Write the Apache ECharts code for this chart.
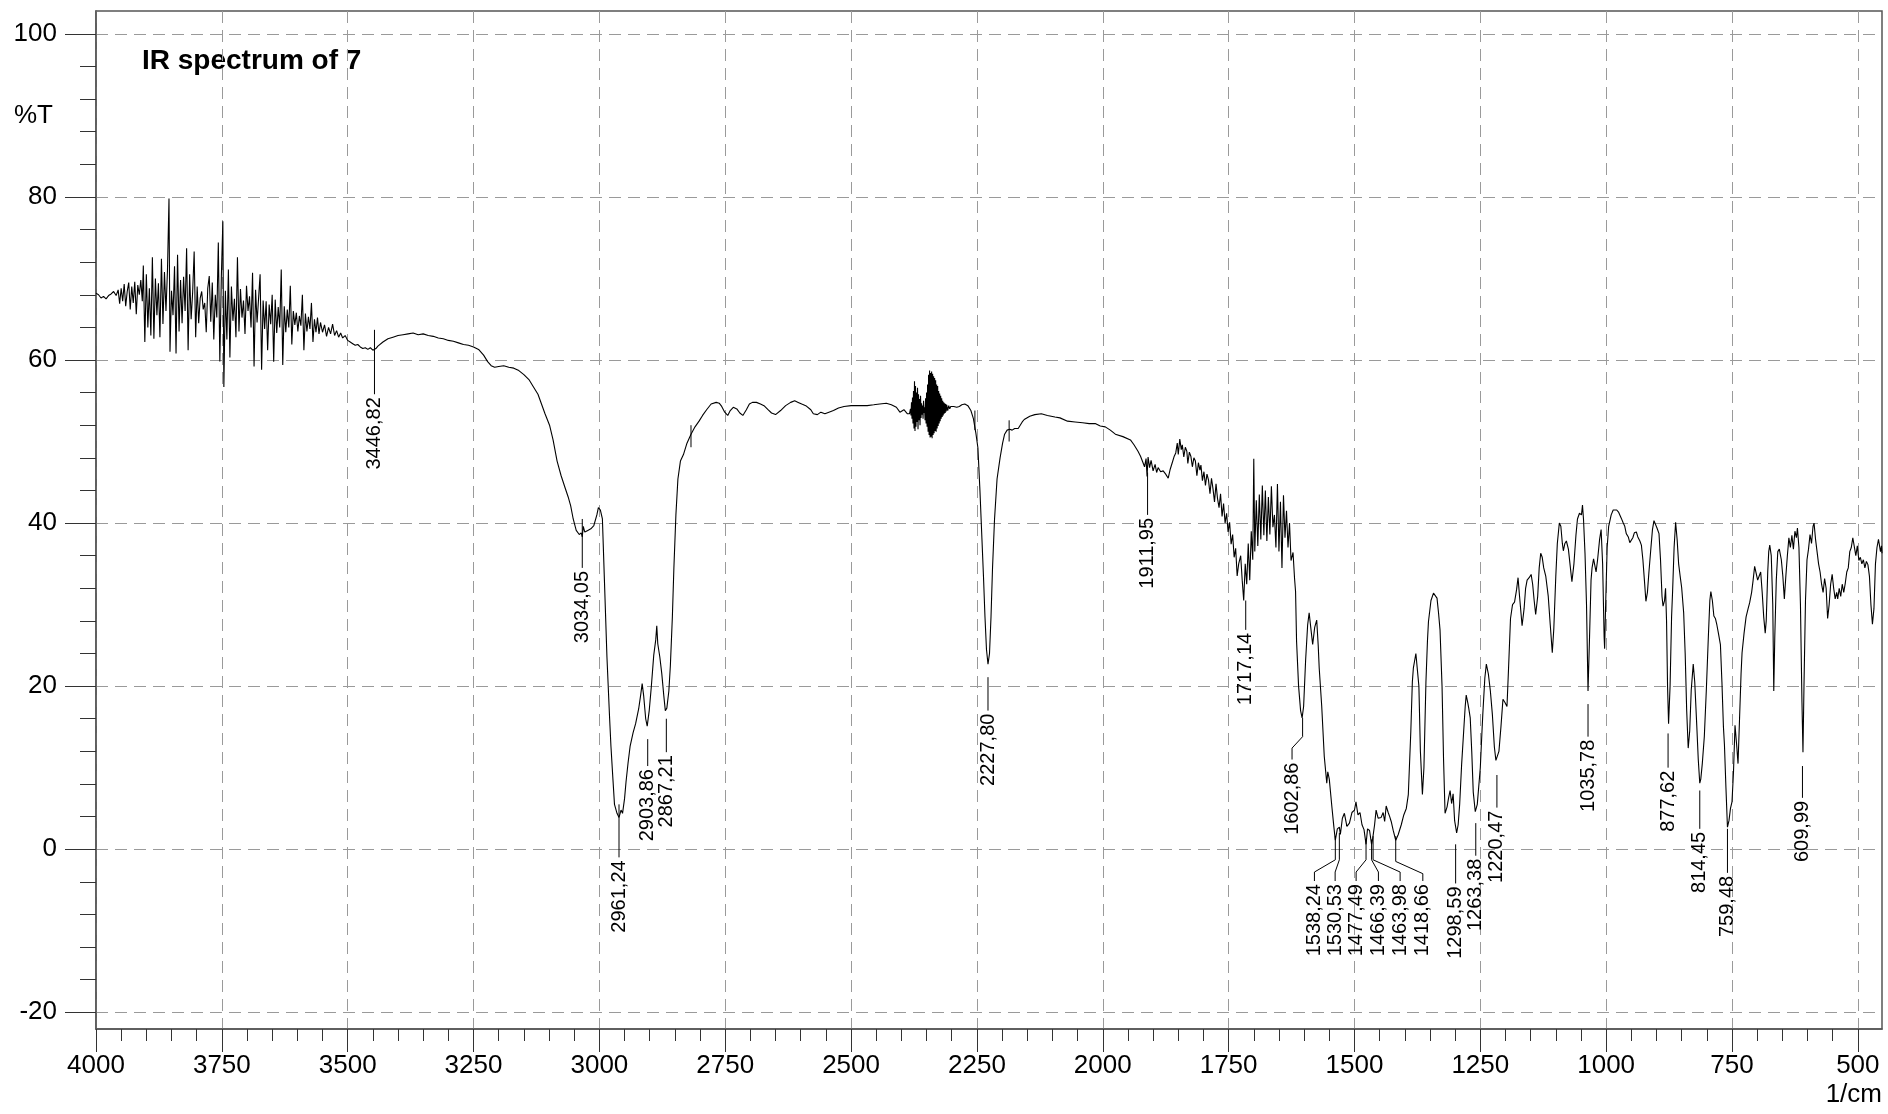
<!DOCTYPE html>
<html>
<head>
<meta charset="utf-8">
<script src="https://cdn.jsdelivr.net/npm/echarts/dist/echarts.min.js"></script>
<style>
html,body{margin:0;padding:0;background:#fff;}
#chart{width:1888px;height:1114px;}
</style>
</head>
<body>
<div id="chart"></div>
<script>
// ---------- data (wavenumber 1/cm, %T) ----------
const segA = [[4000,68.2],[3995,68.0],[3990,67.6],[3985,67.8],[3980,67.5],[3975,67.9],[3970,68.1],[3965,68.4],[3960,67.9],[3956,68.6],[3953,66.9],[3950,68.8],[3947,67.2],[3944,69.3],[3941,66.6],[3938,68.4],[3935,69.5],[3932,66.2],[3929,69.0],[3926,67.0],[3923,69.6],[3920,65.6],[3917,69.2],[3914,68.0],[3911,69.8],[3908,67.2]];
const segB = [[3906,71.6],[3903,62.2],[3900,70.5],[3897,64.0],[3894,68.8],[3891,63.0],[3888,72.6],[3885,62.6],[3882,70.0],[3879,65.5],[3876,69.4],[3873,62.8],[3870,72.4],[3867,64.4],[3864,70.8],[3861,66.0],[3858,71.0],[3855,79.8],[3853,61.0],[3850,68.5],[3847,65.5],[3844,71.5],[3841,60.8],[3838,72.9],[3835,63.5],[3832,69.8],[3829,64.5],[3826,70.2],[3823,66.0],[3820,73.7],[3817,61.2],[3814,70.5],[3811,65.0],[3808,68.3],[3805,73.3],[3802,62.8],[3799,69.0],[3796,64.5],[3793,67.6],[3790,68.4],[3787,66.2],[3784,67.0],[3781,63.4],[3778,68.8],[3775,70.3],[3772,64.7],[3769,69.5],[3766,62.5],[3763,68.0],[3760,65.2],[3757,74.4],[3754,59.8],[3751,70.2],[3748,77.0],[3746,56.7],[3743,68.5],[3740,62.5],[3737,71.1],[3734,60.3],[3731,69.0],[3728,64.8],[3725,67.5],[3722,62.8],[3719,72.6],[3716,63.5],[3713,68.7],[3710,65.2],[3707,67.3],[3704,63.2],[3701,69.1],[3698,66.0],[3695,67.8],[3692,64.0],[3689,70.7],[3686,59.2],[3683,68.6],[3680,64.6],[3677,67.6],[3674,70.5],[3671,58.8],[3668,67.3],[3665,63.8],[3662,67.2],[3659,61.2],[3656,66.8],[3653,64.4],[3650,68.0],[3647,59.8],[3644,67.4],[3641,63.3],[3638,66.5],[3635,64.0],[3632,71.1],[3629,59.4],[3626,66.6],[3623,63.4],[3620,66.2],[3617,64.0],[3614,69.1],[3611,61.9],[3608,66.0],[3605,64.3],[3602,65.8],[3599,63.5],[3596,65.4],[3593,64.2],[3590,68.0],[3587,61.2],[3584,65.7],[3581,63.5],[3578,65.3],[3575,63.8],[3572,67.0],[3569,62.2],[3566,65.0],[3563,63.4],[3560,65.2],[3557,63.2],[3554,64.6],[3550,63.4],[3546,64.3],[3542,62.9],[3538,64.0],[3534,63.2],[3530,64.4],[3526,63.0],[3522,63.6],[3518,62.8],[3514,63.3],[3510,62.7],[3505,63.0],[3500,62.4]];
const segC = [[3495,62.2],[3490,62.0],[3485,61.8],[3480,61.9],[3475,61.6],[3470,61.4],[3465,61.5],[3460,61.3],[3455,61.5],[3450,61.2],[3447,61.0],[3444,61.4],[3440,61.7],[3430,62.2],[3420,62.6],[3410,62.8],[3400,63.0],[3390,63.1],[3380,63.2],[3370,63.3],[3360,63.1],[3350,63.2],[3340,63.0],[3330,62.9],[3320,62.7],[3310,62.6],[3300,62.4],[3290,62.3],[3280,62.1],[3270,61.9],[3260,61.8],[3250,61.6],[3240,61.3],[3230,60.6],[3222,59.8],[3215,59.3],[3208,59.1],[3200,59.2],[3190,59.3],[3180,59.1],[3170,59.0],[3160,58.7],[3150,58.2],[3140,57.6],[3130,56.6],[3122,55.8],[3115,54.6],[3108,53.4],[3099,52.0],[3092,50.2],[3084,47.6],[3076,45.8],[3068,44.3],[3062,43.2],[3057,42.1],[3052,40.5],[3046,39.1],[3040,38.6],[3036,38.8],[3034,38.3],[3032,39.6],[3029,38.9],[3023,39.1],[3017,39.3],[3011,39.7],[3005,41.0],[3002,41.9],[2998,41.6],[2994,40.5],[2990,33.0],[2985,23.6],[2980,16.5],[2977,12.6],[2973,8.5],[2970,5.5],[2965,4.4],[2961,3.9],[2957,4.8],[2954,4.4],[2950,6.2],[2947,8.3],[2943,10.6],[2939,12.6],[2933,14.3],[2928,15.4],[2922,17.2],[2918,18.9],[2915,20.3],[2912,18.8],[2908,16.0],[2905,15.1],[2901,17.0],[2897,19.8],[2892,23.8],[2888,25.7],[2886,27.4],[2884,25.2],[2880,23.6],[2876,21.5],[2872,18.8],[2869,17.0],[2866,17.3],[2862,19.4],[2859,22.5],[2855,28.5],[2852,34.5],[2848,41.0],[2844,45.4],[2839,47.6],[2833,48.4],[2826,49.8],[2818,50.9],[2810,51.8],[2802,52.5],[2795,53.2],[2787,53.9],[2778,54.6],[2768,54.8],[2762,54.7],[2757,54.3],[2751,53.6],[2745,53.2],[2740,53.8],[2734,54.2],[2727,54.0],[2721,53.5],[2715,53.2],[2708,53.9],[2702,54.6],[2696,54.8],[2688,54.8],[2680,54.6],[2673,54.4],[2665,53.9],[2658,53.5],[2650,53.3],[2640,53.8],[2630,54.4],[2620,54.8],[2612,55.0],[2605,54.8],[2598,54.6],[2590,54.4],[2580,53.9],[2575,53.4],[2567,53.3],[2560,53.6],[2552,53.4],[2544,53.6],[2535,53.8],[2525,54.1],[2514,54.3],[2500,54.4],[2485,54.4],[2468,54.4],[2455,54.5],[2443,54.6],[2430,54.7],[2420,54.5],[2410,54.2],[2403,53.6],[2395,53.9],[2388,53.4]];
const segD = [[2384,53.4],[2382,54.0],[2381,53.2],[2380,54.8],[2379,52.8],[2378,55.4],[2377,52.2],[2376,56.2],[2375,51.6],[2374,57.4],[2373,51.3],[2372,56.8],[2371,51.8],[2370,56.0],[2369,52.4],[2368,56.6],[2367,51.5],[2366,55.8],[2365,52.6],[2364,55.2],[2363,52.0],[2362,55.6],[2361,52.9],[2360,54.7],[2359,53.3],[2358,54.4],[2357,52.8],[2356,55.0],[2355,53.5],[2354,54.2],[2353,52.6],[2352,55.3],[2351,52.2],[2350,56.0],[2349,51.8],[2348,57.0],[2347,51.2],[2346,58.2],[2345,50.8],[2344,58.7],[2343,50.5],[2342,58.4],[2341,50.6],[2340,58.6],[2339,50.4],[2338,58.3],[2337,50.8],[2336,58.0],[2335,51.0],[2334,57.8],[2333,51.3],[2332,57.5],[2331,51.2],[2330,57.0],[2329,51.6],[2328,56.8],[2327,51.9],[2326,56.2],[2325,52.2],[2324,55.9],[2323,52.5],[2322,55.6],[2321,52.8],[2320,55.3],[2319,53.0],[2318,55.0],[2317,53.2],[2316,54.8],[2315,53.4],[2314,54.7],[2313,53.5],[2312,54.6],[2311,53.7],[2310,54.5],[2308,53.8],[2306,54.4],[2304,54.0],[2302,54.3],[2300,54.1],[2296,54.3],[2290,54.2],[2285,54.3],[2280,54.5],[2274,54.6],[2268,54.4],[2262,53.8],[2257,52.8],[2252,51.0],[2248,49.2],[2244,44.0],[2240,38.0],[2237,33.5],[2234,28.5],[2231,24.5],[2228,22.7],[2225,24.0],[2222,28.5],[2219,34.5],[2215,40.5],[2210,45.4],[2204,48.0],[2199,49.8],[2195,50.9],[2190,51.4],[2185,51.5],[2180,51.4],[2175,51.6],[2168,51.6],[2160,52.4],[2156,52.7],[2145,53.1],[2135,53.3],[2122,53.4],[2110,53.2],[2095,53.0],[2085,52.9],[2070,52.5],[2055,52.4],[2040,52.3],[2027,52.2],[2015,52.2],[2005,51.9],[1995,51.8],[1985,51.4],[1975,50.9],[1960,50.6],[1945,50.2],[1938,49.6],[1930,48.8],[1925,48.2],[1920,47.4],[1917,46.9],[1914,47.9],[1912,45.7],[1910,48.1],[1907,46.8],[1904,47.7],[1900,46.4],[1896,47.2],[1893,46.2],[1890,46.8],[1885,46.3],[1880,46.4],[1875,46.0],[1870,45.5],[1866,46.6],[1862,47.4],[1858,48.2],[1855,48.6],[1852,49.8],[1850,48.4],[1847,50.3],[1844,49.0],[1842,49.6],[1839,48.1],[1836,49.3],[1833,48.8],[1831,47.3],[1828,48.7],[1825,48.2],[1822,46.9],[1819,48.0],[1816,47.6],[1813,45.8],[1810,47.4],[1807,46.5],[1805,47.1],[1802,45.2],[1799,46.3],[1796,44.6],[1793,46.0],[1790,45.3],[1787,43.6],[1784,45.5],[1781,44.2],[1778,42.6],[1775,44.8],[1772,43.0],[1769,41.9],[1766,43.6],[1763,40.8],[1760,42.4],[1757,40.0],[1754,41.2],[1751,38.9],[1748,40.1],[1745,37.4],[1742,38.6],[1739,35.8],[1736,36.9],[1733,33.5],[1730,35.0],[1726,36.0],[1723,33.0],[1720,30.5],[1717,35.0],[1714,32.5],[1711,37.5],[1708,33.0],[1705,39.0],[1702,35.5],[1700,47.9],[1698,36.5],[1695,42.8],[1692,37.2],[1689,43.5],[1686,38.0],[1683,44.6],[1680,38.5],[1677,44.0],[1674,37.8],[1671,43.2],[1668,38.6],[1665,44.5],[1662,39.5],[1659,41.0],[1656,37.0],[1653,44.8],[1650,36.5],[1647,42.6],[1644,34.5],[1641,43.4],[1638,38.2],[1635,41.5],[1632,37.0],[1629,40.0],[1626,35.4],[1622,36.4],[1619,33.2],[1617,31.6]];
const segE = [[1615,25.5],[1611,20.0],[1607,17.0],[1604,16.1],[1601,17.5],[1597,23.2],[1593,27.5],[1590,29.0],[1587,27.3],[1583,25.1],[1579,27.2],[1575,28.1],[1572,25.0],[1570,22.2],[1565,17.5],[1560,11.4],[1555,8.1],[1553,9.5],[1550,8.6],[1545,5.3],[1541,2.8],[1538,1.1],[1534,2.5],[1530,2.7],[1528,1.8],[1524,3.8],[1520,4.4],[1515,2.8],[1510,3.2],[1505,4.5],[1500,4.8],[1497,5.8],[1493,4.2],[1489,4.5],[1485,3.0],[1481,2.4],[1477,0.6],[1474,2.5],[1470,2.3],[1466,0.6],[1464,1.2],[1460,3.0],[1457,4.8],[1453,3.8],[1450,4.0],[1447,3.9],[1443,4.5],[1440,3.4],[1437,5.3],[1433,4.5],[1430,4.0],[1427,3.4],[1423,2.3],[1418,1.1],[1413,1.8],[1407,3.0],[1402,4.2],[1397,5.0],[1393,6.7],[1388,14.5],[1385,20.5],[1383,22.2],[1380,22.0],[1378,24.0],[1375,24.1],[1372,20.0],[1369,12.0],[1365,6.7],[1362,10.0],[1358,20.5],[1355,25.5],[1353,27.9],[1348,30.5],[1343,31.4],[1340,31.6],[1336,30.8],[1333,29.0],[1330,26.9],[1326,20.0],[1323,11.0],[1320,4.4],[1316,5.2],[1313,6.3],[1310,7.2],[1307,5.6],[1304,6.8],[1301,3.5],[1297,2.0],[1294,3.0],[1291,5.5],[1287,10.5],[1283,14.5],[1280,17.5],[1278,18.9],[1275,18.0],[1273,17.3],[1270,16.1],[1267,12.0],[1264,7.0],[1260,4.6],[1256,5.5],[1253,5.3],[1250,10.0],[1247,14.0],[1245,16.6],[1241,21.0],[1238,22.7],[1234,21.5],[1230,19.4],[1226,16.5],[1222,12.5],[1219,10.9],[1216,10.7],[1213,12.0],[1209,15.0],[1205,18.4],[1201,18.0],[1197,17.5],[1194,22.0],[1190,28.3],[1186,30.0],[1182,30.3],[1178,31.8],[1175,33.3],[1172,31.0],[1167,27.4],[1163,29.5],[1160,32.0],[1157,33.0],[1153,33.3],[1149,33.7],[1146,32.5],[1143,30.5],[1140,28.8],[1136,31.0],[1133,34.5],[1130,36.3],[1127,35.8],[1124,34.5],[1120,33.5],[1115,31.0],[1111,27.5],[1107,24.1],[1104,27.0],[1100,33.5],[1097,37.5],[1093,40.0],[1090,39.6],[1087,37.5],[1085,36.6],[1082,37.5],[1079,37.8],[1075,36.8],[1071,34.5],[1068,32.8],[1064,35.0],[1060,38.5],[1057,40.5],[1053,41.2],[1049,41.0],[1047,42.2],[1045,40.5],[1042,36.3],[1039,30.0],[1036,19.4],[1033,26.0],[1030,33.0],[1028,34.5],[1025,35.6],[1022,35.5],[1020,34.0],[1017,35.5],[1013,38.0],[1010,39.2],[1007,35.0],[1004,26.0],[1003,24.6],[1001,30.0],[998,37.0],[995,39.6],[990,41.0],[986,41.6],[983,41.7],[979,41.6],[975,41.3],[970,40.6],[966,40.0],[963,39.6],[960,38.7],[956,38.3],[953,37.6],[950,37.5],[947,38.2],[944,38.8],[940,38.9],[937,38.3],[933,37.8],[930,37.3],[927,35.5],[924,33.0],[921,30.4],[918,31.5],[915,34.0],[911,37.0],[908,39.2],[905,40.3],[902,40.1],[899,39.4],[895,38.7],[892,35.5],[889,31.0],[887,29.8],[884,30.5],[882,32.0],[880,28.0],[878,20.0],[876,15.4],[873,20.0],[870,28.5],[868,31.6],[865,37.0],[862,40.1],[859,38.0],[856,35.0],[853,33.5],[850,32.1],[846,29.0],[843,24.0],[840,17.0],[837,12.4],[834,14.5],[831,19.5],[827,22.7],[824,20.5],[820,15.2],[817,11.0],[814,8.1],[812,8.6],[809,10.5],[805,13.8],[801,19.5],[797,26.0],[794,30.5],[792,31.6],[789,30.5],[786,28.6],[783,28.3],[780,27.5],[777,26.5],[773,25.1],[770,20.5],[767,15.0],[765,12.8],[762,7.5],[759,2.7],[756,3.5],[753,5.0],[750,5.8],[747,9.5],[744,15.2],[741,13.0],[738,10.5],[735,16.0],[732,21.5],[730,24.1]];
const segF = [[726,26.5],[722,28.5],[718,29.5],[715,30.2],[711,31.5],[708,33.0],[705,34.7],[702,34.6],[699,33.0],[696,33.5],[693,34.0],[690,31.5],[687,28.5],[684,26.5],[682,28.0],[679,34.0],[677,36.5],[675,37.3],[672,36.0],[669,30.0],[667,19.4],[665,26.0],[662,33.0],[659,36.5],[656,36.8],[652,35.5],[649,33.5],[646,30.7],[643,33.5],[640,36.0],[637,38.2],[634,37.0],[631,38.5],[628,36.8],[625,39.0],[622,38.2],[620,39.4],[617,37.0],[614,30.0],[611,18.0],[609,11.9],[607,20.0],[604,30.5],[601,35.5],[598,36.8],[595,38.6],[592,37.5],[589,39.6],[587,40.0],[584,38.0],[581,36.5],[578,35.0],[575,34.0],[572,32.5],[569,31.5],[566,33.2],[563,32.0],[560,28.3],[557,30.0],[554,32.5],[551,33.7],[548,32.0],[545,30.7],[542,31.5],[540,30.7],[537,32.0],[534,31.0],[531,32.5],[528,31.5],[525,32.6],[522,34.0],[519,34.5],[516,36.5],[513,37.0],[510,38.2],[507,38.2],[504,36.0],[501,37.2],[498,35.4],[495,35.8],[492,35.0],[489,35.5],[486,34.5],[483,35.3],[480,34.9],[477,33.5],[474,30.0],[471,27.6],[468,29.5],[465,35.0],[462,37.0],[459,38.0],[457,38.0],[455,36.5],[453,37.2],[452,36.3]];

// ---------- peak annotations ----------
const peakText  = ['3446,82','3034,05','2961,24','2903,86','2867,21','2227,80','1911,95','1717,14','1602,86','1538,24','1530,53','1477,49','1466,39','1463,98','1418,66','1298,59','1263,38','1220,47','1035,78','877,62','814,45','759,48','609,99','','',''];
const peakX     = [3446.8,3034,2961,2904,2867,2228,1911,1716,1603,1538,1530,1477,1466,1463,1418,1299,1259,1217,1036,877,814,759,610,2818,2254,2186];
const peakTop   = [63.7,40.5,5.5,13.5,16.0,21.1,46.2,30.5,16.1,1.6,2.0,1.2,1.2,1.6,1.6,0.6,3.2,9.1,17.8,14.2,7.2,2.5,10.2,52.0,53.8,52.6];
const peakKink1 = [55.8,34.5,-1.0,10.2,11.9,17.0,41.0,26.9,13.8,-1.3,-1.3,-1.3,-1.3,-1.3,-1.5,-4.2,-0.8,5.1,13.8,10.0,2.5,-2.9,6.3,49.3,51.4,50.0];
const labelX    = [3446.8,3034,2961,2904,2867,2228,1911,1716,1624,1579.5,1538.4,1496.7,1452.4,1409.3,1364.2,1299,1259,1217,1036,877,814,759,610,2818,2254,2186];
const peakKink2 = [55.8,34.5,-1.0,10.2,11.9,17.0,41.0,26.9,12.4,-2.8,-2.8,-2.8,-2.8,-2.8,-3.0,-4.2,-0.8,5.1,13.8,10.0,2.5,-2.9,6.3,49.3,51.4,50.0];
const peakBot   = [55.8,34.5,-1.0,10.2,11.9,17.0,41.0,26.9,11.0,-3.9,-3.9,-3.9,-3.9,-3.9,-3.9,-4.2,-0.8,5.1,13.8,10.0,2.5,-2.9,6.3,49.3,51.4,50.0];

// ---------- axes ----------
const xMajorTicks = [4000,3750,3500,3250,3000,2750,2500,2250,2000,1750,1500,1250,1000,750,500];
const yMajorTicks = [-20,0,20,40,60,80,100];
const xRange = [452, 4000];
const yRange = [-22.05, 102.8];

const xMinorTicks = []; for (let v = 500; v <= 4000; v += 50) xMinorTicks.push(v);
const yMinorTicks = []; for (let v = -20; v <= 100; v += 4) yMinorTicks.push(v);

const spectrum = segA.concat(segB, segC, segD, segE, segF);
const annData = peakText.map((t, i) => [peakX[i], peakTop[i], peakKink1[i], labelX[i], peakKink2[i], peakBot[i], i]);

const FONT = '"Liberation Sans", Arial, Helvetica, sans-serif';
const chart = echarts.init(document.getElementById('chart'), null, {renderer: 'canvas'});

const gridLine = {show: true, lineStyle: {color: '#9a9a9a', width: 1, type: [12, 7]}};

chart.setOption({
  animation: false,
  backgroundColor: '#fff',
  grid: {left: 96, right: 6, top: 11, bottom: 85, show: true, borderColor: '#555', borderWidth: 1.5, containLabel: false, outerBoundsMode: 'none'},
  xAxis: [
    {type: 'value', inverse: true, min: xRange[0], max: xRange[1], position: 'bottom',
     axisLine: {show: true, onZero: false, lineStyle: {color: '#555', width: 1.5}},
     axisTick: {show: true, customValues: xMajorTicks, length: 23, lineStyle: {color: '#333', width: 1}},
     axisLabel: {show: true, customValues: xMajorTicks, margin: 24, color: '#000', fontSize: 26, fontFamily: FONT, formatter: v => String(v)},
     splitLine: gridLine},
    {type: 'value', inverse: true, min: xRange[0], max: xRange[1], position: 'bottom',
     axisLine: {show: false, onZero: false},
     axisTick: {show: true, customValues: xMinorTicks, length: 12, lineStyle: {color: '#333', width: 1}},
     axisLabel: {show: false}, splitLine: {show: false}}
  ],
  yAxis: [
    {type: 'value', min: yRange[0], max: yRange[1], position: 'left',
     axisLine: {show: true, onZero: false, lineStyle: {color: '#555', width: 1.5}},
     axisTick: {show: true, customValues: yMajorTicks, length: 31, lineStyle: {color: '#333', width: 1}},
     axisLabel: {show: true, customValues: yMajorTicks, margin: 39, color: '#000', fontSize: 26, fontFamily: FONT, formatter: v => String(v)},
     splitLine: gridLine},
    {type: 'value', min: yRange[0], max: yRange[1], position: 'left',
     axisLine: {show: false, onZero: false},
     axisTick: {show: true, customValues: yMinorTicks, length: 16, lineStyle: {color: '#333', width: 1}},
     axisLabel: {show: false}, splitLine: {show: false}}
  ],
  graphic: [
    {type: 'text', left: 142, top: 47, style: {text: 'IR spectrum of 7', font: 'bold 28px ' + FONT, fill: '#000'}},
    {type: 'text', left: 14, top: 103, style: {text: '%T', font: '26px ' + FONT, fill: '#000'}},
    {type: 'text', right: 6, top: 1082, style: {text: '1/cm', font: '26px ' + FONT, fill: '#000'}}
  ],
  series: [
    {type: 'line', xAxisIndex: 0, yAxisIndex: 0, data: spectrum, showSymbol: false, symbol: 'none',
     lineStyle: {color: '#000', width: 1.1}, silent: true, z: 3},
    {type: 'custom', xAxisIndex: 0, yAxisIndex: 0, data: annData, silent: true, z: 4,
     encode: {x: [0, 3], y: [1, 2, 4, 5]},
     renderItem: function (params, api) {
       const i = api.value(6);
       const p1 = api.coord([api.value(0), api.value(1)]);
       const p2 = api.coord([api.value(0), api.value(2)]);
       const p3 = api.coord([api.value(3), api.value(4)]);
       const p4 = api.coord([api.value(3), api.value(5)]);
       const children = [{type: 'polyline', shape: {points: [p1, p2, p3, p4]},
                          style: {stroke: '#000', lineWidth: 1, fill: null}}];
       const t = peakText[i];
       if (t) {
         children.push({type: 'text', x: p4[0], y: p4[1] + 3, rotation: Math.PI / 2,
           style: {text: t, fill: '#000', fontSize: 20, fontFamily: FONT, align: 'right', verticalAlign: 'middle'}});
       }
       return {type: 'group', children: children};
     }}
  ]
});
</script>
</body>
</html>
